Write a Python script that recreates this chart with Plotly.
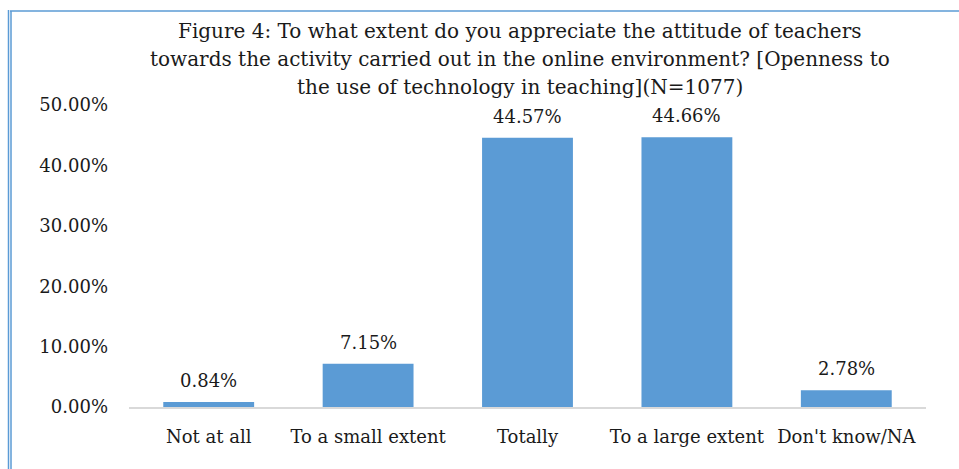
import plotly.graph_objects as go

categories = ["Not at all", "To a small extent", "Totally", "To a large extent", "Don't know/NA"]
shares = [0.0084, 0.0715, 0.4457, 0.4466, 0.0278]
y_ticks = [0.0, 0.1, 0.2, 0.3, 0.4, 0.5]
title_lines = [
    "Figure 4: To what extent do you appreciate the attitude of teachers",
    "towards the activity carried out in the online environment? [Openness to",
    "the use of technology in teaching](N=1077)",
]

W, H = 959, 469
FONT = "DejaVu Serif"
INK = "#1a1a1a"
BAR = "#5B9BD5"
EDGE = "#5B9BD5"

fig = go.Figure(go.Bar(
    x=categories,
    y=shares,
    marker=dict(color=BAR, line=dict(width=0)),
    hoverinfo="x+y",
))

ml, mr, mt, mb = 129, 33, 105, 62

def px_to_paper_x(px):
    return (px - ml) / (W - ml - mr)

def px_to_paper_y(py):
    return (H - mb - py) / (H - mt - mb)

annotations = []
# value labels sitting above each bar
for cat, v in zip(categories, shares):
    annotations.append(dict(
        x=cat, y=v, xref="x", yref="y",
        text=f"{v*100:.2f}%", showarrow=False,
        yanchor="bottom", yshift=9,
        font=dict(family=FONT, size=18, color=INK),
    ))

# three-line heading, centred over the chart
for i, line in enumerate(title_lines):
    annotations.append(dict(
        x=px_to_paper_x(520), y=px_to_paper_y(31 + 28 * i),
        xref="paper", yref="paper",
        text=line, showarrow=False,
        xanchor="center", yanchor="middle",
        font=dict(family=FONT, size=20, color=INK),
    ))

# page frame: double rule on the left, single rule on top
frame = [
    dict(x0=px_to_paper_x(8.5), x1=px_to_paper_x(8.5), y0=px_to_paper_y(10), y1=px_to_paper_y(H + 5)),
    dict(x0=px_to_paper_x(11), x1=px_to_paper_x(11), y0=px_to_paper_y(11), y1=px_to_paper_y(H + 5)),
    dict(x0=px_to_paper_x(10), x1=px_to_paper_x(W + 5), y0=px_to_paper_y(11), y1=px_to_paper_y(11)),
]
shapes = [dict(type="line", xref="paper", yref="paper", line=dict(color=EDGE, width=1.5), **f) for f in frame]

fig.update_layout(
    width=W, height=H,
    margin=dict(l=ml, r=mr, t=mt, b=mb),
    paper_bgcolor="white",
    plot_bgcolor="white",
    bargap=0.43,
    showlegend=False,
    font=dict(family=FONT, size=18, color=INK),
    xaxis=dict(
        showline=True, linecolor="#d9d9d9", linewidth=1.5,
        ticks="", showgrid=False,
        tickfont=dict(family=FONT, size=18, color=INK),
        ticklabelstandoff=13,
    ),
    yaxis=dict(
        range=[0, 0.5],
        tickvals=y_ticks,
        tickformat=".2%",
        showgrid=False, zeroline=False, showline=False,
        tickfont=dict(family=FONT, size=18, color=INK),
        ticklabelstandoff=20,
    ),
    annotations=annotations,
    shapes=shapes,
)

fig.write_html("out.html")
